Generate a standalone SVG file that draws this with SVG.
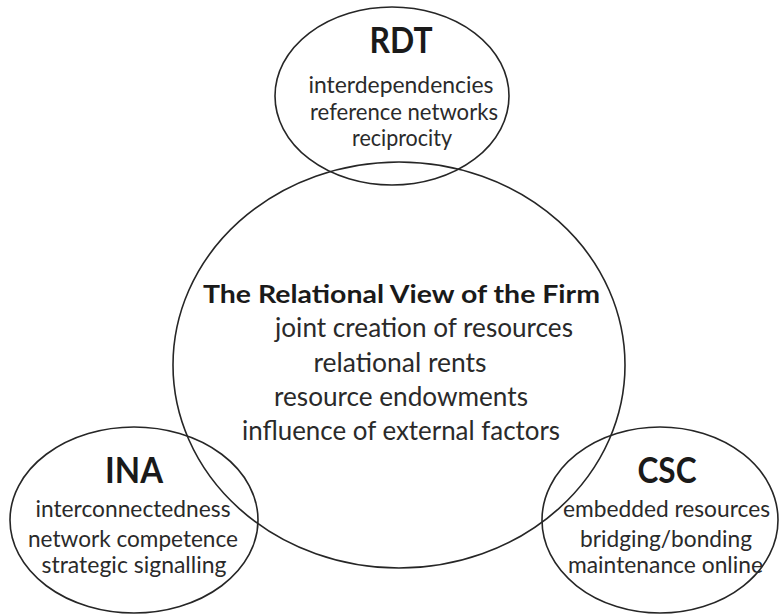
<svg xmlns="http://www.w3.org/2000/svg" width="779" height="615" viewBox="0 0 779 615">
<style>
.shape{fill:none;stroke:#262626;stroke-width:1.6}
text{font-family:Lato,"Open Sans","Liberation Sans",sans-serif;fill:#1a1a1a;text-anchor:middle}
.t{font-weight:bold;font-size:36px}
.h{font-weight:bold;font-size:25px}
.b{font-size:22.5px;fill:#2a2a2a}
.c{font-size:26.5px;fill:#2a2a2a}
</style>
<rect width="779" height="615" fill="#ffffff"/>
<g id="rdt">
<ellipse class="shape" cx="392" cy="96" rx="117" ry="89"/>
<text class="t" x="401" y="53" textLength="63" lengthAdjust="spacingAndGlyphs">RDT</text>
<text class="b" x="401" y="93" textLength="185" lengthAdjust="spacingAndGlyphs">interdependencies</text>
<text class="b" x="404" y="120" textLength="188" lengthAdjust="spacingAndGlyphs">reference networks</text>
<text class="b" x="402" y="146" textLength="100" lengthAdjust="spacingAndGlyphs">reciprocity</text>
</g>
<g id="rvf">
<ellipse class="shape" cx="399" cy="365" rx="226" ry="203"/>
<text class="h" x="401.5" y="303" textLength="397" lengthAdjust="spacingAndGlyphs">The Relational View of the Firm</text>
<text class="c" x="424" y="337" textLength="298" lengthAdjust="spacingAndGlyphs">joint creation of resources</text>
<text class="c" x="400" y="372" textLength="173" lengthAdjust="spacingAndGlyphs">relational rents</text>
<text class="c" x="401" y="406" textLength="254" lengthAdjust="spacingAndGlyphs">resource endowments</text>
<text class="c" x="401" y="440" textLength="318" lengthAdjust="spacingAndGlyphs">influence of external factors</text>
</g>
<g id="ina">
<ellipse class="shape" cx="134" cy="520" rx="124" ry="93"/>
<text class="t" x="134" y="483" textLength="58" lengthAdjust="spacingAndGlyphs">INA</text>
<text class="b" x="133" y="517" textLength="195" lengthAdjust="spacingAndGlyphs">interconnectedness</text>
<text class="b" x="133" y="547" textLength="210" lengthAdjust="spacingAndGlyphs">network competence</text>
<text class="b" x="134" y="573" textLength="185" lengthAdjust="spacingAndGlyphs">strategic signalling</text>
</g>
<g id="csc">
<ellipse class="shape" cx="660" cy="520" rx="118" ry="93"/>
<text class="t" x="667" y="483" textLength="59" lengthAdjust="spacingAndGlyphs">CSC</text>
<text class="b" x="666.5" y="517" textLength="207" lengthAdjust="spacingAndGlyphs">embedded resources</text>
<text class="b" x="666" y="547" textLength="172" lengthAdjust="spacingAndGlyphs">bridging/bonding</text>
<text class="b" x="665.5" y="573" textLength="195" lengthAdjust="spacingAndGlyphs">maintenance online</text>
</g>
<g id="connectors"></g>
</svg>
